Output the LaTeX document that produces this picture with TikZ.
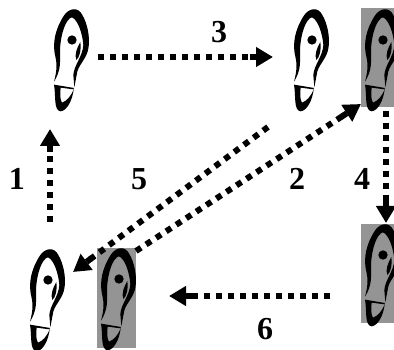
\documentclass[tikz,border=0pt]{standalone}
\usepackage{fontspec}
\setmainfont{Liberation Serif}
\usetikzlibrary{arrows.meta}
\tikzset{
  earpic/.pic={
    \begin{scope}[x=0.3333pt,y=-0.3333pt]
    \fill[black] (72,245) .. controls (80,215) and (82,195) .. (76,170)
      .. controls (66,130) and (76,85) .. (103,45)
      .. controls (118,24) and (145,20) .. (157,45)
      .. controls (172,70) and (180,110) .. (176,140)
      .. controls (172,178) and (142,195) .. (140,225)
      -- (133,262) -- (130,225)
      .. controls (132,195) and (158,170) .. (160,135)
      .. controls (158,105) and (145,60) .. (126,52)
      .. controls (108,56) and (92,100) .. (90,150)
      .. controls (90,185) and (94,210) .. (72,245) -- cycle;
    \fill[black] (126,120) circle[radius=14];
    \fill[black] (151,126) .. controls (154,150) and (149,172) .. (139,180)
      .. controls (133,165) and (140,145) .. (151,126) -- cycle;
    \fill[black] (72,254) -- (132,264) -- (130,268) -- (92,263)
      .. controls (90,285) and (90,298) .. (96,308)
      .. controls (110,303) and (122,290) .. (131,268)
      .. controls (128,298) and (112,332) .. (92,334)
      .. controls (70,332) and (78,285) .. (72,254) -- cycle;
    \end{scope}
  },
  graybox/.style={draw=none,fill=black!42},
  flow/.style={line width=6pt,dash pattern=on 6pt off 6pt,
    -{Rectangle[length=6pt,width=6pt,sep=0pt]Triangle[length=17pt,width=19pt]}},
  numlabel/.style={font=\fontsize{32}{32}\selectfont\bfseries,inner sep=0pt}
}
\begin{document}
\begin{tikzpicture}[x=1pt,y=-1pt]
\useasboundingbox (0,0) rectangle (394,350);
\fill[white] (0,0) rectangle (394,350);
\fill[graybox] (361,8) rectangle (394,107);
\fill[graybox] (97,248) rectangle (136,348);
\fill[graybox] (361,224) rectangle (394,323);
\pic at (30,0) {earpic};
\pic at (270,0) {earpic};
\pic at (341,0) {earpic};
\pic at (6,240) {earpic};
\pic at (77,239) {earpic};
\pic at (341,215) {earpic};
\coordinate (a1) at (50,222); \coordinate (b1) at (50,129);
\coordinate (a3) at (98,57);  \coordinate (b3) at (273,57);
\coordinate (a4) at (386,111); \coordinate (b4) at (386,223);
\coordinate (a6) at (330,296); \coordinate (b6) at (169,296);
\coordinate (a5) at (268,127); \coordinate (b5) at (73,272);
\coordinate (a2) at (136,251); \coordinate (b2) at (361,104);
\draw[flow] (a1) -- (b1);
\draw[flow] (a3) -- (b3);
\draw[flow] (a4) -- (b4);
\draw[flow] (a6) -- (b6);
\draw[flow] (a5) -- (b5);
\draw[flow] (a2) -- (b2);
\node[numlabel] (n3) at (219,32) {3};
\node[numlabel] (n1) at (17,179) {1};
\node[numlabel] (n5) at (139,179) {5};
\node[numlabel] (n2) at (297,179) {2};
\node[numlabel] (n4) at (362,179) {4};
\node[numlabel] (n6) at (265,329) {6};
\end{tikzpicture}
\end{document}
